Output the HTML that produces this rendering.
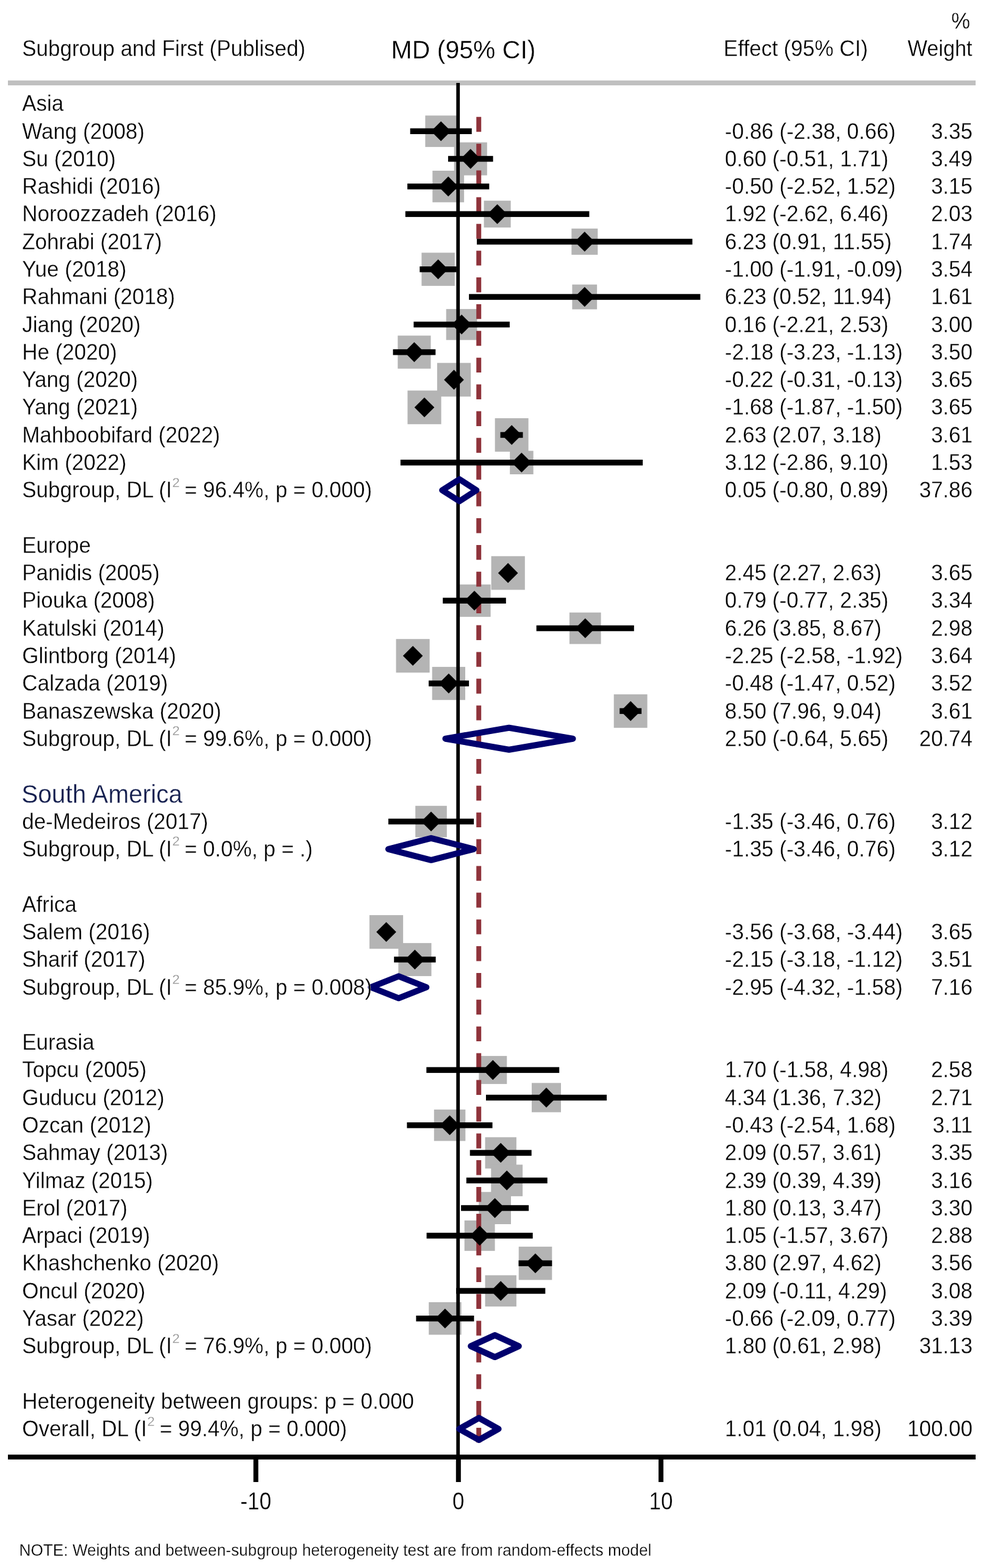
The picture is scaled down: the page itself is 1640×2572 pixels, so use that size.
<!DOCTYPE html>
<html><head><meta charset="utf-8"><title>Forest plot</title>
<style>
html,body{margin:0;padding:0;background:#fff;}
body{width:1640px;height:2572px;overflow:hidden;}
svg{display:block;}
text{font-family:"Liberation Sans",Arial,Helvetica,sans-serif;font-size:35.0px;fill:#000;stroke:#fff;stroke-width:0.3px;}
</style></head><body>
<svg width="1640" height="2572" viewBox="0 0 1640 2572">
<rect width="1640" height="2572" fill="#fff"/>
<rect x="13" y="132" width="1587" height="8" fill="#c0c0c0"/>
<rect x="697.4" y="189.5" width="51.6" height="51.6" fill="#b4b4b4"/>
<rect x="744.7" y="233.5" width="54.1" height="54.1" fill="#b4b4b4"/>
<rect x="709.3" y="280.0" width="51.8" height="51.8" fill="#b4b4b4"/>
<rect x="793.6" y="329.2" width="44.0" height="44.0" fill="#b4b4b4"/>
<rect x="937.3" y="374.9" width="43.0" height="43.0" fill="#b4b4b4"/>
<rect x="691.4" y="414.5" width="54.4" height="54.4" fill="#b4b4b4"/>
<rect x="938.4" y="466.7" width="40.7" height="40.7" fill="#b4b4b4"/>
<rect x="731.7" y="506.9" width="50.8" height="50.8" fill="#b4b4b4"/>
<rect x="652.3" y="550.5" width="54.2" height="54.2" fill="#b4b4b4"/>
<rect x="716.9" y="595.3" width="55.2" height="55.2" fill="#b4b4b4"/>
<rect x="668.4" y="640.6" width="55.2" height="55.2" fill="#b4b4b4"/>
<rect x="811.7" y="686.0" width="54.9" height="54.9" fill="#b4b4b4"/>
<rect x="836.2" y="739.5" width="38.5" height="38.5" fill="#b4b4b4"/>
<rect x="805.6" y="912.3" width="55.2" height="55.2" fill="#b4b4b4"/>
<rect x="751.5" y="958.7" width="53.1" height="53.1" fill="#b4b4b4"/>
<rect x="933.9" y="1004.7" width="51.7" height="51.7" fill="#b4b4b4"/>
<rect x="649.5" y="1048.2" width="55.1" height="55.1" fill="#b4b4b4"/>
<rect x="708.7" y="1093.9" width="54.3" height="54.3" fill="#b4b4b4"/>
<rect x="1006.7" y="1138.9" width="54.9" height="54.9" fill="#b4b4b4"/>
<rect x="681.2" y="1321.8" width="51.6" height="51.6" fill="#b4b4b4"/>
<rect x="605.9" y="1501.1" width="55.2" height="55.2" fill="#b4b4b4"/>
<rect x="653.3" y="1546.9" width="54.2" height="54.2" fill="#b4b4b4"/>
<rect x="785.3" y="1732.1" width="46.0" height="46.0" fill="#b4b4b4"/>
<rect x="872.0" y="1776.4" width="48.0" height="48.0" fill="#b4b4b4"/>
<rect x="711.8" y="1820.0" width="51.5" height="51.5" fill="#b4b4b4"/>
<rect x="795.6" y="1865.4" width="51.3" height="51.3" fill="#b4b4b4"/>
<rect x="805.3" y="1910.4" width="51.8" height="51.8" fill="#b4b4b4"/>
<rect x="785.2" y="1955.2" width="52.8" height="52.8" fill="#b4b4b4"/>
<rect x="761.7" y="2001.9" width="49.9" height="49.9" fill="#b4b4b4"/>
<rect x="850.7" y="2044.9" width="54.6" height="54.6" fill="#b4b4b4"/>
<rect x="795.6" y="2091.8" width="51.3" height="51.3" fill="#b4b4b4"/>
<rect x="703.2" y="2136.0" width="53.4" height="53.4" fill="#b4b4b4"/>
<rect x="748.3" y="136" width="5.8" height="2250" fill="#000"/>
<line x1="785.2" y1="191.8" x2="785.2" y2="2378" stroke="#8f333b" stroke-width="8" stroke-dasharray="24.4 19.48"/>
<rect x="672.7" y="210.5" width="101.0" height="9.5" fill="#000"/>
<polygon points="706.9,215.3 723.2,199.0 739.5,215.3 723.2,231.6" fill="#000"/>
<rect x="734.9" y="255.8" width="73.7" height="9.5" fill="#000"/>
<polygon points="755.4,260.6 771.7,244.3 788.0,260.6 771.7,276.9" fill="#000"/>
<rect x="668.1" y="301.1" width="134.2" height="9.5" fill="#000"/>
<polygon points="718.9,305.9 735.2,289.6 751.5,305.9 735.2,322.2" fill="#000"/>
<rect x="664.8" y="346.4" width="301.6" height="9.5" fill="#000"/>
<polygon points="799.3,351.2 815.6,334.9 831.9,351.2 815.6,367.5" fill="#000"/>
<rect x="782.0" y="391.7" width="353.5" height="9.5" fill="#000"/>
<polygon points="942.5,396.4 958.8,380.1 975.1,396.4 958.8,412.8" fill="#000"/>
<rect x="688.3" y="437.0" width="60.5" height="9.5" fill="#000"/>
<polygon points="702.3,441.7 718.6,425.4 734.9,441.7 718.6,458.0" fill="#000"/>
<rect x="769.1" y="482.3" width="379.4" height="9.5" fill="#000"/>
<polygon points="942.5,487.0 958.8,470.7 975.1,487.0 958.8,503.3" fill="#000"/>
<rect x="678.4" y="527.6" width="157.5" height="9.5" fill="#000"/>
<polygon points="740.8,532.3 757.1,516.0 773.4,532.3 757.1,548.6" fill="#000"/>
<rect x="644.5" y="572.9" width="69.8" height="9.5" fill="#000"/>
<polygon points="663.1,577.6 679.4,561.3 695.7,577.6 679.4,593.9" fill="#000"/>
<rect x="741.5" y="618.1" width="6.0" height="9.5" fill="#000"/>
<polygon points="728.2,622.9 744.5,606.6 760.8,622.9 744.5,639.2" fill="#000"/>
<rect x="689.7" y="663.4" width="12.3" height="9.5" fill="#000"/>
<polygon points="679.7,668.2 696.0,651.9 712.3,668.2 696.0,684.5" fill="#000"/>
<rect x="820.6" y="708.7" width="36.9" height="9.5" fill="#000"/>
<polygon points="822.9,713.5 839.2,697.2 855.5,713.5 839.2,729.8" fill="#000"/>
<rect x="656.8" y="754.0" width="397.3" height="9.5" fill="#000"/>
<polygon points="839.1,758.8 855.4,742.5 871.7,758.8 855.4,775.1" fill="#000"/>
<rect x="827.2" y="935.2" width="12.0" height="9.5" fill="#000"/>
<polygon points="816.9,939.9 833.2,923.6 849.5,939.9 833.2,956.2" fill="#000"/>
<rect x="726.2" y="980.5" width="103.6" height="9.5" fill="#000"/>
<polygon points="761.7,985.2 778.0,968.9 794.3,985.2 778.0,1001.5" fill="#000"/>
<rect x="879.7" y="1025.8" width="160.1" height="9.5" fill="#000"/>
<polygon points="943.5,1030.5 959.8,1014.2 976.1,1030.5 959.8,1046.8" fill="#000"/>
<rect x="666.1" y="1071.0" width="21.9" height="9.5" fill="#000"/>
<polygon points="660.8,1075.8 677.1,1059.5 693.4,1075.8 677.1,1092.1" fill="#000"/>
<rect x="703.0" y="1116.3" width="66.1" height="9.5" fill="#000"/>
<polygon points="719.6,1121.1 735.9,1104.8 752.2,1121.1 735.9,1137.4" fill="#000"/>
<rect x="1016.2" y="1161.6" width="35.9" height="9.5" fill="#000"/>
<polygon points="1017.9,1166.4 1034.2,1150.1 1050.5,1166.4 1034.2,1182.7" fill="#000"/>
<rect x="636.9" y="1342.8" width="140.2" height="9.5" fill="#000"/>
<polygon points="690.7,1347.5 707.0,1331.2 723.3,1347.5 707.0,1363.8" fill="#000"/>
<rect x="629.6" y="1524.0" width="8.0" height="9.5" fill="#000"/>
<polygon points="617.2,1528.7 633.5,1512.4 649.8,1528.7 633.5,1545.0" fill="#000"/>
<rect x="646.2" y="1569.2" width="68.4" height="9.5" fill="#000"/>
<polygon points="664.1,1574.0 680.4,1557.7 696.7,1574.0 680.4,1590.3" fill="#000"/>
<rect x="699.3" y="1750.4" width="217.9" height="9.5" fill="#000"/>
<polygon points="792.0,1755.1 808.3,1738.8 824.6,1755.1 808.3,1771.4" fill="#000"/>
<rect x="797.0" y="1795.7" width="198.0" height="9.5" fill="#000"/>
<polygon points="879.7,1800.4 896.0,1784.1 912.3,1800.4 896.0,1816.7" fill="#000"/>
<rect x="667.4" y="1841.0" width="140.2" height="9.5" fill="#000"/>
<polygon points="721.2,1845.7 737.5,1829.4 753.8,1845.7 737.5,1862.0" fill="#000"/>
<rect x="770.7" y="1886.3" width="101.0" height="9.5" fill="#000"/>
<polygon points="804.9,1891.0 821.2,1874.7 837.5,1891.0 821.2,1907.3" fill="#000"/>
<rect x="764.8" y="1931.6" width="132.9" height="9.5" fill="#000"/>
<polygon points="814.9,1936.3 831.2,1920.0 847.5,1936.3 831.2,1952.6" fill="#000"/>
<rect x="756.1" y="1976.8" width="111.0" height="9.5" fill="#000"/>
<polygon points="795.3,1981.6 811.6,1965.3 827.9,1981.6 811.6,1997.9" fill="#000"/>
<rect x="699.6" y="2022.1" width="174.1" height="9.5" fill="#000"/>
<polygon points="770.4,2026.9 786.7,2010.6 803.0,2026.9 786.7,2043.2" fill="#000"/>
<rect x="850.5" y="2067.4" width="54.8" height="9.5" fill="#000"/>
<polygon points="861.7,2072.2 878.0,2055.9 894.3,2072.2 878.0,2088.5" fill="#000"/>
<rect x="748.1" y="2112.7" width="146.2" height="9.5" fill="#000"/>
<polygon points="804.9,2117.5 821.2,2101.2 837.5,2117.5 821.2,2133.8" fill="#000"/>
<rect x="682.4" y="2158.0" width="95.0" height="9.5" fill="#000"/>
<polygon points="713.6,2162.8 729.9,2146.5 746.2,2162.8 729.9,2179.1" fill="#000"/>
<polygon points="725.2,804.1 753.5,786.1 781.4,804.1 753.5,822.1" fill="none" stroke="#00006e" stroke-width="10" stroke-linejoin="round"/>
<polygon points="730.5,1211.7 834.8,1193.7 939.5,1211.7 834.8,1229.7" fill="none" stroke="#00006e" stroke-width="10" stroke-linejoin="round"/>
<polygon points="636.9,1392.8 707.0,1374.8 777.0,1392.8 707.0,1410.8" fill="none" stroke="#00006e" stroke-width="10" stroke-linejoin="round"/>
<polygon points="608.3,1619.3 653.8,1601.3 699.3,1619.3 653.8,1637.3" fill="none" stroke="#00006e" stroke-width="10" stroke-linejoin="round"/>
<polygon points="772.1,2208.1 811.6,2190.1 850.8,2208.1 811.6,2226.1" fill="none" stroke="#00006e" stroke-width="10" stroke-linejoin="round"/>
<polygon points="753.1,2343.9 785.4,2325.9 817.6,2343.9 785.4,2361.9" fill="none" stroke="#00006e" stroke-width="10" stroke-linejoin="round"/>
<rect x="13" y="2386" width="1587" height="8" fill="#000"/>
<rect x="415.6" y="2390" width="8" height="41" fill="#000"/>
<rect x="747.8" y="2390" width="8" height="41" fill="#000"/>
<rect x="1080.0" y="2390" width="8" height="41" fill="#000"/>
<text transform="translate(36.2 91.7) scale(1 1.03)">Subgroup and First (Publised)</text>
<text transform="translate(641.6 95.6) scale(1 1.045)" style="font-size:41px">MD (95% CI)</text>
<text transform="translate(1186.8 91.5) scale(1 1.03)">Effect (95% CI)</text>
<text transform="translate(1488.6 91.5) scale(1 1.03)" textLength="106" lengthAdjust="spacingAndGlyphs">Weight</text>
<text transform="translate(1591.0 46.6) scale(1 1.03)" text-anchor="end">%</text>
<text transform="translate(36.2 182.2) scale(1 1.03)">Asia</text>
<text transform="translate(36.2 227.5) scale(1 1.03)">Wang (2008)</text>
<text transform="translate(1188.8 227.5) scale(1 1.03)">-0.86 (-2.38, 0.66)</text>
<text transform="translate(1595.0 227.5) scale(1 1.03)" text-anchor="end">3.35</text>
<text transform="translate(36.2 272.8) scale(1 1.03)">Su (2010)</text>
<text transform="translate(1188.8 272.8) scale(1 1.03)">0.60 (-0.51, 1.71)</text>
<text transform="translate(1595.0 272.8) scale(1 1.03)" text-anchor="end">3.49</text>
<text transform="translate(36.2 318.1) scale(1 1.03)">Rashidi (2016)</text>
<text transform="translate(1188.8 318.1) scale(1 1.03)">-0.50 (-2.52, 1.52)</text>
<text transform="translate(1595.0 318.1) scale(1 1.03)" text-anchor="end">3.15</text>
<text transform="translate(36.2 363.4) scale(1 1.03)">Noroozzadeh (2016)</text>
<text transform="translate(1188.8 363.4) scale(1 1.03)">1.92 (-2.62, 6.46)</text>
<text transform="translate(1595.0 363.4) scale(1 1.03)" text-anchor="end">2.03</text>
<text transform="translate(36.2 408.6) scale(1 1.03)">Zohrabi (2017)</text>
<text transform="translate(1188.8 408.6) scale(1 1.03)">6.23 (0.91, 11.55)</text>
<text transform="translate(1595.0 408.6) scale(1 1.03)" text-anchor="end">1.74</text>
<text transform="translate(36.2 453.9) scale(1 1.03)">Yue (2018)</text>
<text transform="translate(1188.8 453.9) scale(1 1.03)">-1.00 (-1.91, -0.09)</text>
<text transform="translate(1595.0 453.9) scale(1 1.03)" text-anchor="end">3.54</text>
<text transform="translate(36.2 499.2) scale(1 1.03)">Rahmani (2018)</text>
<text transform="translate(1188.8 499.2) scale(1 1.03)">6.23 (0.52, 11.94)</text>
<text transform="translate(1595.0 499.2) scale(1 1.03)" text-anchor="end">1.61</text>
<text transform="translate(36.2 544.5) scale(1 1.03)">Jiang (2020)</text>
<text transform="translate(1188.8 544.5) scale(1 1.03)">0.16 (-2.21, 2.53)</text>
<text transform="translate(1595.0 544.5) scale(1 1.03)" text-anchor="end">3.00</text>
<text transform="translate(36.2 589.8) scale(1 1.03)">He (2020)</text>
<text transform="translate(1188.8 589.8) scale(1 1.03)">-2.18 (-3.23, -1.13)</text>
<text transform="translate(1595.0 589.8) scale(1 1.03)" text-anchor="end">3.50</text>
<text transform="translate(36.2 635.1) scale(1 1.03)">Yang (2020)</text>
<text transform="translate(1188.8 635.1) scale(1 1.03)">-0.22 (-0.31, -0.13)</text>
<text transform="translate(1595.0 635.1) scale(1 1.03)" text-anchor="end">3.65</text>
<text transform="translate(36.2 680.4) scale(1 1.03)">Yang (2021)</text>
<text transform="translate(1188.8 680.4) scale(1 1.03)">-1.68 (-1.87, -1.50)</text>
<text transform="translate(1595.0 680.4) scale(1 1.03)" text-anchor="end">3.65</text>
<text transform="translate(36.2 725.7) scale(1 1.03)">Mahboobifard (2022)</text>
<text transform="translate(1188.8 725.7) scale(1 1.03)">2.63 (2.07, 3.18)</text>
<text transform="translate(1595.0 725.7) scale(1 1.03)" text-anchor="end">3.61</text>
<text transform="translate(36.2 771.0) scale(1 1.03)">Kim (2022)</text>
<text transform="translate(1188.8 771.0) scale(1 1.03)">3.12 (-2.86, 9.10)</text>
<text transform="translate(1595.0 771.0) scale(1 1.03)" text-anchor="end">1.53</text>
<text transform="translate(36.2 816.3) scale(1 1.03)">Subgroup, DL (I<tspan dx="0.5" dy="-17" style="font-size:22px;fill:#8c8c8c">2</tspan><tspan dx="-1.5" dy="17"> = 96.4%, p = 0.000)</tspan></text>
<text transform="translate(1188.8 816.3) scale(1 1.03)">0.05 (-0.80, 0.89)</text>
<text transform="translate(1595.0 816.3) scale(1 1.03)" text-anchor="end">37.86</text>
<text transform="translate(36.2 906.8) scale(1 1.03)">Europe</text>
<text transform="translate(36.2 952.1) scale(1 1.03)">Panidis (2005)</text>
<text transform="translate(1188.8 952.1) scale(1 1.03)">2.45 (2.27, 2.63)</text>
<text transform="translate(1595.0 952.1) scale(1 1.03)" text-anchor="end">3.65</text>
<text transform="translate(36.2 997.4) scale(1 1.03)">Piouka (2008)</text>
<text transform="translate(1188.8 997.4) scale(1 1.03)">0.79 (-0.77, 2.35)</text>
<text transform="translate(1595.0 997.4) scale(1 1.03)" text-anchor="end">3.34</text>
<text transform="translate(36.2 1042.7) scale(1 1.03)">Katulski (2014)</text>
<text transform="translate(1188.8 1042.7) scale(1 1.03)">6.26 (3.85, 8.67)</text>
<text transform="translate(1595.0 1042.7) scale(1 1.03)" text-anchor="end">2.98</text>
<text transform="translate(36.2 1088.0) scale(1 1.03)">Glintborg (2014)</text>
<text transform="translate(1188.8 1088.0) scale(1 1.03)">-2.25 (-2.58, -1.92)</text>
<text transform="translate(1595.0 1088.0) scale(1 1.03)" text-anchor="end">3.64</text>
<text transform="translate(36.2 1133.3) scale(1 1.03)">Calzada (2019)</text>
<text transform="translate(1188.8 1133.3) scale(1 1.03)">-0.48 (-1.47, 0.52)</text>
<text transform="translate(1595.0 1133.3) scale(1 1.03)" text-anchor="end">3.52</text>
<text transform="translate(36.2 1178.6) scale(1 1.03)">Banaszewska (2020)</text>
<text transform="translate(1188.8 1178.6) scale(1 1.03)">8.50 (7.96, 9.04)</text>
<text transform="translate(1595.0 1178.6) scale(1 1.03)" text-anchor="end">3.61</text>
<text transform="translate(36.2 1223.9) scale(1 1.03)">Subgroup, DL (I<tspan dx="0.5" dy="-17" style="font-size:22px;fill:#8c8c8c">2</tspan><tspan dx="-1.5" dy="17"> = 99.6%, p = 0.000)</tspan></text>
<text transform="translate(1188.8 1223.9) scale(1 1.03)">2.50 (-0.64, 5.65)</text>
<text transform="translate(1595.0 1223.9) scale(1 1.03)" text-anchor="end">20.74</text>
<text transform="translate(35.2 1317.0) scale(1 1.045)" style="font-size:40.6px;fill:#131e4e">South America</text>
<text transform="translate(36.2 1359.7) scale(1 1.03)">de-Medeiros (2017)</text>
<text transform="translate(1188.8 1359.7) scale(1 1.03)">-1.35 (-3.46, 0.76)</text>
<text transform="translate(1595.0 1359.7) scale(1 1.03)" text-anchor="end">3.12</text>
<text transform="translate(36.2 1405.0) scale(1 1.03)">Subgroup, DL (I<tspan dx="0.5" dy="-17" style="font-size:22px;fill:#8c8c8c">2</tspan><tspan dx="-1.5" dy="17"> = 0.0%, p = .)</tspan></text>
<text transform="translate(1188.8 1405.0) scale(1 1.03)">-1.35 (-3.46, 0.76)</text>
<text transform="translate(1595.0 1405.0) scale(1 1.03)" text-anchor="end">3.12</text>
<text transform="translate(36.2 1495.6) scale(1 1.03)">Africa</text>
<text transform="translate(36.2 1540.9) scale(1 1.03)">Salem (2016)</text>
<text transform="translate(1188.8 1540.9) scale(1 1.03)">-3.56 (-3.68, -3.44)</text>
<text transform="translate(1595.0 1540.9) scale(1 1.03)" text-anchor="end">3.65</text>
<text transform="translate(36.2 1586.2) scale(1 1.03)">Sharif (2017)</text>
<text transform="translate(1188.8 1586.2) scale(1 1.03)">-2.15 (-3.18, -1.12)</text>
<text transform="translate(1595.0 1586.2) scale(1 1.03)" text-anchor="end">3.51</text>
<text transform="translate(36.2 1631.5) scale(1 1.03)">Subgroup, DL (I<tspan dx="0.5" dy="-17" style="font-size:22px;fill:#8c8c8c">2</tspan><tspan dx="-1.5" dy="17"> = 85.9%, p = 0.008)</tspan></text>
<text transform="translate(1188.8 1631.5) scale(1 1.03)">-2.95 (-4.32, -1.58)</text>
<text transform="translate(1595.0 1631.5) scale(1 1.03)" text-anchor="end">7.16</text>
<text transform="translate(36.2 1722.1) scale(1 1.03)">Eurasia</text>
<text transform="translate(36.2 1767.3) scale(1 1.03)">Topcu (2005)</text>
<text transform="translate(1188.8 1767.3) scale(1 1.03)">1.70 (-1.58, 4.98)</text>
<text transform="translate(1595.0 1767.3) scale(1 1.03)" text-anchor="end">2.58</text>
<text transform="translate(36.2 1812.6) scale(1 1.03)">Guducu (2012)</text>
<text transform="translate(1188.8 1812.6) scale(1 1.03)">4.34 (1.36, 7.32)</text>
<text transform="translate(1595.0 1812.6) scale(1 1.03)" text-anchor="end">2.71</text>
<text transform="translate(36.2 1857.9) scale(1 1.03)">Ozcan (2012)</text>
<text transform="translate(1188.8 1857.9) scale(1 1.03)">-0.43 (-2.54, 1.68)</text>
<text transform="translate(1595.0 1857.9) scale(1 1.03)" text-anchor="end">3.11</text>
<text transform="translate(36.2 1903.2) scale(1 1.03)">Sahmay (2013)</text>
<text transform="translate(1188.8 1903.2) scale(1 1.03)">2.09 (0.57, 3.61)</text>
<text transform="translate(1595.0 1903.2) scale(1 1.03)" text-anchor="end">3.35</text>
<text transform="translate(36.2 1948.5) scale(1 1.03)">Yilmaz (2015)</text>
<text transform="translate(1188.8 1948.5) scale(1 1.03)">2.39 (0.39, 4.39)</text>
<text transform="translate(1595.0 1948.5) scale(1 1.03)" text-anchor="end">3.16</text>
<text transform="translate(36.2 1993.8) scale(1 1.03)">Erol (2017)</text>
<text transform="translate(1188.8 1993.8) scale(1 1.03)">1.80 (0.13, 3.47)</text>
<text transform="translate(1595.0 1993.8) scale(1 1.03)" text-anchor="end">3.30</text>
<text transform="translate(36.2 2039.1) scale(1 1.03)">Arpaci (2019)</text>
<text transform="translate(1188.8 2039.1) scale(1 1.03)">1.05 (-1.57, 3.67)</text>
<text transform="translate(1595.0 2039.1) scale(1 1.03)" text-anchor="end">2.88</text>
<text transform="translate(36.2 2084.4) scale(1 1.03)">Khashchenko (2020)</text>
<text transform="translate(1188.8 2084.4) scale(1 1.03)">3.80 (2.97, 4.62)</text>
<text transform="translate(1595.0 2084.4) scale(1 1.03)" text-anchor="end">3.56</text>
<text transform="translate(36.2 2129.7) scale(1 1.03)">Oncul (2020)</text>
<text transform="translate(1188.8 2129.7) scale(1 1.03)">2.09 (-0.11, 4.29)</text>
<text transform="translate(1595.0 2129.7) scale(1 1.03)" text-anchor="end">3.08</text>
<text transform="translate(36.2 2175.0) scale(1 1.03)">Yasar (2022)</text>
<text transform="translate(1188.8 2175.0) scale(1 1.03)">-0.66 (-2.09, 0.77)</text>
<text transform="translate(1595.0 2175.0) scale(1 1.03)" text-anchor="end">3.39</text>
<text transform="translate(36.2 2220.2) scale(1 1.03)">Subgroup, DL (I<tspan dx="0.5" dy="-17" style="font-size:22px;fill:#8c8c8c">2</tspan><tspan dx="-1.5" dy="17"> = 76.9%, p = 0.000)</tspan></text>
<text transform="translate(1188.8 2220.2) scale(1 1.03)">1.80 (0.61, 2.98)</text>
<text transform="translate(1595.0 2220.2) scale(1 1.03)" text-anchor="end">31.13</text>
<text transform="translate(36.2 2310.8) scale(1 1.03)">Heterogeneity between groups: p = 0.000</text>
<text transform="translate(36.2 2356.1) scale(1 1.03)">Overall, DL (I<tspan dx="0.5" dy="-17" style="font-size:22px;fill:#8c8c8c">2</tspan><tspan dx="-1.5" dy="17"> = 99.4%, p = 0.000)</tspan></text>
<text transform="translate(1188.8 2356.1) scale(1 1.03)">1.01 (0.04, 1.98)</text>
<text transform="translate(1595.0 2356.1) scale(1 1.03)" text-anchor="end">100.00</text>
<text transform="translate(419.6 2475.6) scale(1 1.16)" text-anchor="middle">-10</text>
<text transform="translate(751.8 2475.6) scale(1 1.16)" text-anchor="middle">0</text>
<text transform="translate(1084.0 2475.6) scale(1 1.16)" text-anchor="middle">10</text>
<text transform="translate(31.6 2551.7) scale(1 1.03)" style="font-size:26.2px">NOTE: Weights and between-subgroup heterogeneity test are from random-effects model</text>
</svg>
</body></html>
